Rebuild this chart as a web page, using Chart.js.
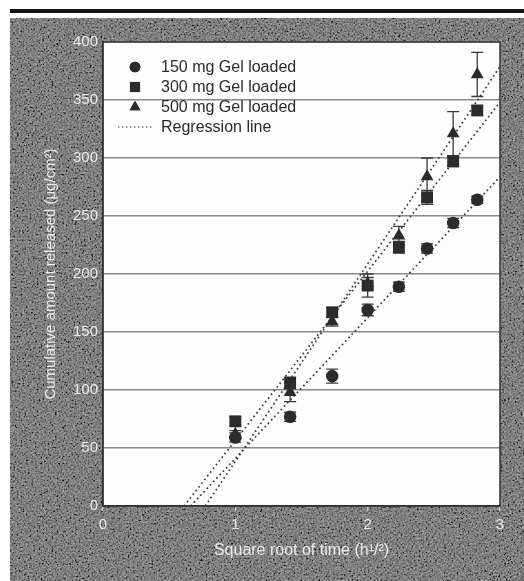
<!DOCTYPE html>
<html>
<head>
<meta charset="utf-8">
<script src="https://cdn.jsdelivr.net/npm/chart.js@4.4.1/dist/chart.umd.min.js"></script>
<style>
  html, body { margin: 0; padding: 0; background: #fff; }
  #wrap { position: relative; width: 524px; height: 581px; overflow: hidden; }
  .rule { position: absolute; left: 10px; top: 9px; width: 514px; height: 4px; background: #151515; }
  .panel { position: absolute; left: 10px; top: 18px; width: 514px; height: 563px; background: #3a3a3a; }
  .panel svg { position: absolute; left: 0; top: 0; }
  #c { position: absolute; left: 0; top: 0; }
</style>
</head>
<body>
<div id="wrap">
  <div class="rule"></div>
  <div class="panel">
    <svg width="514" height="563">
      <filter id="grain">
        <feTurbulence type="fractalNoise" baseFrequency="0.55" numOctaves="3" seed="7"/>
        <feColorMatrix type="matrix" values="1.05 1.05 1.05 0 -1.1  1.05 1.05 1.05 0 -1.1  1.05 1.05 1.05 0 -1.1  0 0 0 0 0.55"/>
      </filter>
      <rect width="514" height="563" filter="url(#grain)"/>
    </svg>
  </div>
  <canvas id="c" width="524" height="581"></canvas>
</div>
<script>
// Square root of sampling time (h^1/2): 1..8 h
const sqrtTime = [1, 1.414, 1.732, 2, 2.236, 2.449, 2.646, 2.828];

// Cumulative amount released (µg/cm²) and SD for each loading
const gel150 = [59, 77, 112, 169, 189, 222, 244, 264];
const gel150Err = [4, 4, 6, 5, 4, 4, 4, 3];
const gel300 = [73, 106, 167, 190, 223, 266, 297, 341];
const gel300Err = [4, 5, 4, 10, 5, 6, 4, 4];
const gel500 = [62, 98, 159, 192, 233, 284, 321, 372];
const gel500Err = [3, 8, 4, 5, 8, 16, 19, 19];

const seriesLabels = ['150 mg Gel loaded', '300 mg Gel loaded', '500 mg Gel loaded'];
const regressionLabel = 'Regression line';
const xTicks = [0, 1, 2, 3];
const yTicks = [0, 50, 100, 150, 200, 250, 300, 350, 400];

const ink = '#2b2b2b';
const textLight = '#ececec';
const FONT = "'Liberation Sans', Arial, sans-serif";

function points(xs, ys) { return xs.map((x, i) => ({ x, y: ys[i] })); }

// least-squares fit through a series, drawn from the x-intercept to the right edge
function regression(xs, ys, xEnd) {
  const n = xs.length;
  const mx = xs.reduce((a, b) => a + b, 0) / n;
  const my = ys.reduce((a, b) => a + b, 0) / n;
  let sxy = 0, sxx = 0;
  for (let i = 0; i < n; i++) { sxy += (xs[i] - mx) * (ys[i] - my); sxx += (xs[i] - mx) ** 2; }
  const m = sxy / sxx, b = my - m * mx;
  return [{ x: -b / m, y: 0 }, { x: xEnd, y: m * xEnd + b }];
}

const markerBase = { showLine: false, backgroundColor: ink, borderColor: ink, borderWidth: 0 };
const regBase = {
  showLine: true, pointRadius: 0, borderColor: '#3a3a3a', borderWidth: 1.7,
  borderDash: [1.7, 3], fill: false, errors: null
};

const datasets = [
  Object.assign({ label: seriesLabels[0], data: points(sqrtTime, gel150), errors: gel150Err, pointStyle: 'circle', pointRadius: 6.3 }, markerBase),
  Object.assign({ label: seriesLabels[1], data: points(sqrtTime, gel300), errors: gel300Err, pointStyle: 'rect', pointRadius: 8.4 }, markerBase),
  Object.assign({ label: seriesLabels[2], data: points(sqrtTime, gel500), errors: gel500Err, pointStyle: 'triangle', pointRadius: 7.4 }, markerBase),
  Object.assign({ label: regressionLabel, data: regression(sqrtTime, gel150, 3) }, regBase),
  Object.assign({ label: regressionLabel, data: regression(sqrtTime, gel300, 3) }, regBase),
  Object.assign({ label: regressionLabel, data: regression(sqrtTime, gel500, 3) }, regBase)
];

// white plotting field with a dark frame
const plotField = {
  id: 'plotField',
  beforeDraw(chart) {
    const { ctx, chartArea: a } = chart;
    ctx.save();
    ctx.fillStyle = '#fdfdfd';
    ctx.fillRect(a.left, a.top, a.right - a.left, a.bottom - a.top);
    ctx.restore();
  },
  afterDraw(chart) {
    const { ctx, chartArea: a } = chart;
    ctx.save();
    ctx.strokeStyle = '#333';
    ctx.lineWidth = 1.5;
    ctx.strokeRect(a.left, a.top, a.right - a.left, a.bottom - a.top);
    ctx.restore();
  }
};

// vertical SD bars with caps
const errorBars = {
  id: 'errorBars',
  beforeDatasetsDraw(chart) {
    const { ctx, scales: { x, y } } = chart;
    ctx.save();
    ctx.strokeStyle = '#3a3a3a';
    ctx.lineWidth = 1.3;
    chart.data.datasets.forEach((ds) => {
      if (!ds.errors) return;
      ds.data.forEach((p, i) => {
        const e = ds.errors[i];
        const px = x.getPixelForValue(p.x);
        const yt = y.getPixelForValue(p.y + e);
        const yb = y.getPixelForValue(p.y - e);
        ctx.beginPath();
        ctx.moveTo(px, yt); ctx.lineTo(px, yb);
        ctx.moveTo(px - 6, yt); ctx.lineTo(px + 6, yt);
        ctx.moveTo(px - 6, yb); ctx.lineTo(px + 6, yb);
        ctx.stroke();
      });
    });
    ctx.restore();
  }
};

// legend set inside the upper-left of the plot
const insideLegend = {
  id: 'insideLegend',
  afterDraw(chart) {
    const { ctx } = chart;
    const rows = [67, 87, 107, 127];
    const mx = 135, tx = 161;
    ctx.save();
    ctx.font = '16px ' + FONT;
    ctx.textBaseline = 'middle';
    for (let i = 0; i < 3; i++) {
      const ds = chart.data.datasets[i];
      Chart.helpers.drawPoint(ctx, {
        pointStyle: ds.pointStyle, radius: ds.pointRadius * 0.85, rotation: 0, borderWidth: 0
      }, mx, rows[i]);
      ctx.fillStyle = ink;
      ctx.fill();
      ctx.fillStyle = '#2a2a2a';
      ctx.fillText(ds.label, tx, rows[i] + 1);
    }
    ctx.strokeStyle = '#777';
    ctx.lineWidth = 1.4;
    ctx.setLineDash([1.5, 2.5]);
    ctx.beginPath();
    ctx.moveTo(118, rows[3]); ctx.lineTo(152, rows[3]);
    ctx.stroke();
    ctx.setLineDash([]);
    ctx.fillStyle = '#2a2a2a';
    ctx.fillText(regressionLabel, tx, rows[3] + 1);
    ctx.restore();
  }
};

new Chart(document.getElementById('c'), {
  type: 'scatter',
  data: { datasets },
  plugins: [plotField, errorBars, insideLegend],
  options: {
    responsive: false,
    animation: false,
    devicePixelRatio: 1,
    layout: { padding: { top: 42, right: 24, left: 0, bottom: 0 } },
    plugins: { legend: { display: false }, tooltip: { enabled: false } },
    scales: {
      x: {
        type: 'linear', min: 0, max: 3,
        afterBuildTicks(s) { s.ticks = xTicks.map(v => ({ value: v })); },
        afterFit(s) { s.height = 75; },
        ticks: { color: textLight, font: { family: FONT, size: 15 }, padding: 5 },
        grid: { drawOnChartArea: false, tickLength: 5, color: '#d0d0d0', lineWidth: 1.2 },
        border: { color: '#333', width: 1.5 },
        title: {
          display: true, text: 'Square root of time (h¹/²)', color: textLight,
          font: { family: FONT, size: 16 }, padding: { top: 0, bottom: 21 }
        }
      },
      y: {
        type: 'linear', min: 0, max: 400,
        afterBuildTicks(s) { s.ticks = yTicks.map(v => ({ value: v })); },
        afterFit(s) { s.width = 103; },
        ticks: { color: textLight, font: { family: FONT, size: 15 }, padding: 5 },
        grid: { drawTicks: false, color: '#8a8a8a', lineWidth: 1.5 },
        border: { color: '#333', width: 1.5 },
        title: {
          display: true, text: 'Cumulative amount released (μg/cm²)', color: textLight,
          font: { family: FONT, size: 15 }, padding: { top: 42, bottom: 0 }
        }
      }
    }
  }
});
</script>
</body>
</html>
